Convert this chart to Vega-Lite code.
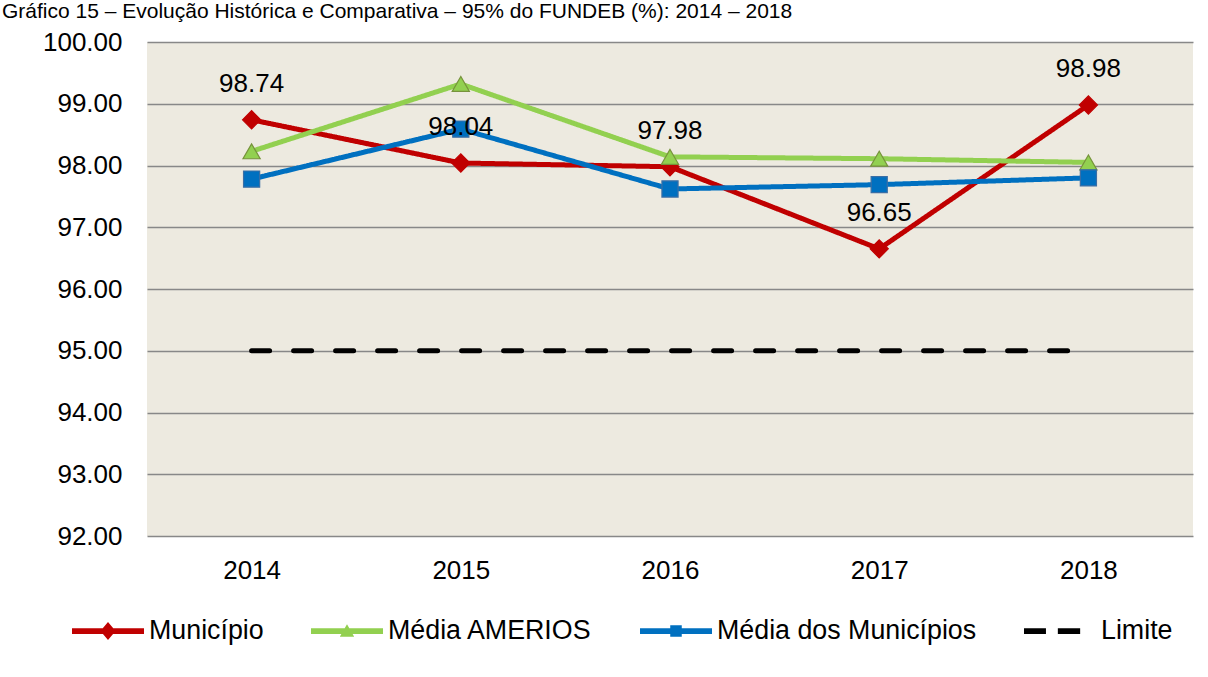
{
  "$schema": "https://vega.github.io/schema/vega-lite/v6.json",
  "autosize": {"type": "none"},
  "width": 1046,
  "height": 494,
  "padding": {"left": 147, "top": 42, "right": 15, "bottom": 141},
  "background": "white",
  "title": {
    "text": "Gráfico 15 – Evolução Histórica e Comparativa – 95% do FUNDEB (%): 2014 – 2018",
    "anchor": "start",
    "frame": "group",
    "dx": -145,
    "offset": -10,
    "baseline": "alphabetic",
    "fontSize": 21,
    "fontWeight": "normal",
    "color": "black",
    "font": "Liberation Sans"
  },
  "config": {
    "font": "Liberation Sans",
    "view": {"fill": "#EDEAE0", "stroke": null},
    "axis": {"labelFont": "Liberation Sans", "labelColor": "black", "labelFontSize": 26, "title": null}
  },
  "datasets": {
    "series": [
      {"year": "2014", "serie": "Município", "valor": 98.74},
      {"year": "2015", "serie": "Município", "valor": 98.04},
      {"year": "2016", "serie": "Município", "valor": 97.98},
      {"year": "2017", "serie": "Município", "valor": 96.65},
      {"year": "2018", "serie": "Município", "valor": 98.98},
      {"year": "2014", "serie": "Média AMERIOS", "valor": 98.23},
      {"year": "2015", "serie": "Média AMERIOS", "valor": 99.32},
      {"year": "2016", "serie": "Média AMERIOS", "valor": 98.14},
      {"year": "2017", "serie": "Média AMERIOS", "valor": 98.11},
      {"year": "2018", "serie": "Média AMERIOS", "valor": 98.05},
      {"year": "2014", "serie": "Média dos Municípios", "valor": 97.78},
      {"year": "2015", "serie": "Média dos Municípios", "valor": 98.59},
      {"year": "2016", "serie": "Média dos Municípios", "valor": 97.62},
      {"year": "2017", "serie": "Média dos Municípios", "valor": 97.69},
      {"year": "2018", "serie": "Média dos Municípios", "valor": 97.80},
      {"year": "2014", "serie": "Limite", "valor": 95},
      {"year": "2015", "serie": "Limite", "valor": 95},
      {"year": "2016", "serie": "Limite", "valor": 95},
      {"year": "2017", "serie": "Limite", "valor": 95},
      {"year": "2018", "serie": "Limite", "valor": 95}
    ],
    "legendItems": [
      {"serie": "Município"},
      {"serie": "Média AMERIOS"},
      {"serie": "Média dos Municípios"},
      {"serie": "Limite"}
    ]
  },
  "resolve": {"scale": {"color": "independent", "shape": "independent", "strokeDash": "independent"}},
  "layer": [
    {
      "data": {"name": "series"},
      "mark": {"type": "line", "strokeWidth": 5, "strokeCap": "round", "strokeJoin": "round"},
      "encoding": {
        "x": {
          "field": "year", "type": "ordinal",
          "scale": {"type": "point", "padding": 0.5},
          "axis": {"labelAngle": 0, "ticks": false, "domain": false, "grid": false, "labelPadding": 21}
        },
        "y": {
          "field": "valor", "type": "quantitative",
          "scale": {"domain": [92, 100], "nice": false, "zero": false},
          "axis": {
            "values": [92, 93, 94, 95, 96, 97, 98, 99, 100],
            "format": ".2f", "ticks": false, "tickSize": 0, "domain": false,
            "labelPadding": 25, "grid": true, "gridColor": "#888888", "gridWidth": 1.5, "gridOpacity": 1
          }
        },
        "color": {
          "field": "serie", "type": "nominal",
          "scale": {"domain": ["Município", "Média AMERIOS", "Média dos Municípios", "Limite"], "range": ["#C00000", "#92D050", "#0070C0", "#000000"]},
          "legend": null
        },
        "strokeDash": {
          "field": "serie", "type": "nominal",
          "scale": {"domain": ["Município", "Média AMERIOS", "Média dos Municípios", "Limite"], "range": [[1, 0], [1, 0], [1, 0], [18, 24]]},
          "legend": null
        },
        "order": {"field": "year"}
      }
    },
    {
      "data": {"name": "series"},
      "transform": [{"filter": "datum.serie !== 'Limite'"}],
      "mark": {"type": "point", "filled": true, "opacity": 1, "strokeWidth": 1.2},
      "encoding": {
        "x": {"field": "year", "type": "ordinal"},
        "y": {"field": "valor", "type": "quantitative"},
        "shape": {
          "field": "serie", "type": "nominal",
          "scale": {"domain": ["Município", "Média AMERIOS", "Média dos Municípios"], "range": ["diamond", "triangle-up", "square"]},
          "legend": null
        },
        "size": {
          "field": "serie", "type": "nominal",
          "scale": {"domain": ["Município", "Média AMERIOS", "Média dos Municípios"], "range": [330, 260, 230]},
          "legend": null
        },
        "color": {
          "field": "serie", "type": "nominal",
          "scale": {"domain": ["Município", "Média AMERIOS", "Média dos Municípios"], "range": ["#C00000", "#92D050", "#0070C0"]},
          "legend": null
        },
        "stroke": {
          "field": "serie", "type": "nominal",
          "scale": {"domain": ["Município", "Média AMERIOS", "Média dos Municípios"], "range": ["#C00000", "#77933C", "#3A6EA5"]},
          "legend": null
        }
      }
    },
    {
      "data": {"name": "series"},
      "transform": [{"filter": "datum.serie === 'Município'"}],
      "mark": {"type": "text", "dy": -36, "fontSize": 26, "color": "black", "baseline": "middle", "align": "center"},
      "encoding": {
        "x": {"field": "year", "type": "ordinal"},
        "y": {"field": "valor", "type": "quantitative"},
        "text": {"field": "valor", "type": "quantitative", "format": ".2f"}
      }
    },
    {
      "data": {"name": "legendItems"},
      "mark": {"type": "point", "filled": true, "opacity": 1},
      "encoding": {
        "x": {"field": "year", "type": "ordinal"},
        "y": {"field": "valor", "type": "quantitative"},
        "color": {
          "field": "serie", "type": "nominal",
          "scale": {"domain": ["Município", "Média AMERIOS", "Média dos Municípios", "Limite"], "range": ["#C00000", "#92D050", "#0070C0", "#000000"]},
          "legend": {
            "title": null, "orient": "none", "direction": "horizontal", "legendX": -75, "legendY": 553,
            "symbolSize": 5184, "labelFontSize": 26.8, "labelColor": "black", "labelFont": "Liberation Sans",
            "labelOffset": 5, "columnPadding": 47, "labelLimit": 400, "symbolStrokeWidth": 0, "symbolOpacity": 1,
            "labelExpr": "datum.label === 'Limite' ? '\u00a0\u00a0Limite' : datum.label"
          }
        },
        "shape": {
          "field": "serie", "type": "nominal",
          "scale": {
            "domain": ["Município", "Média AMERIOS", "Média dos Municípios", "Limite"],
            "range": [
              "M-1,-0.08L1,-0.08L1,0.08L-1,0.08Z M0,-0.25L0.21,0L0,0.25L-0.21,0Z",
              "M-1,-0.08L1,-0.08L1,0.08L-1,0.08Z M0,-0.19L0.2,0.16L-0.2,0.16Z",
              "M-1,-0.08L1,-0.08L1,0.08L-1,0.08Z M-0.16,-0.16L0.16,-0.16L0.16,0.16L-0.16,0.16Z",
              "M-1,-0.08L-0.39,-0.08L-0.39,0.08L-1,0.08Z M-0.06,-0.08L0.56,-0.08L0.56,0.08L-0.06,0.08Z"
            ]
          },
          "legend": {
            "title": null, "orient": "none", "direction": "horizontal", "legendX": -75, "legendY": 553,
            "symbolSize": 5184, "labelFontSize": 26.8, "labelColor": "black", "labelFont": "Liberation Sans",
            "labelOffset": 5, "columnPadding": 47, "labelLimit": 400, "symbolStrokeWidth": 0, "symbolOpacity": 1,
            "labelExpr": "datum.label === 'Limite' ? '\u00a0\u00a0Limite' : datum.label"
          }
        }
      }
    }
  ]
}
